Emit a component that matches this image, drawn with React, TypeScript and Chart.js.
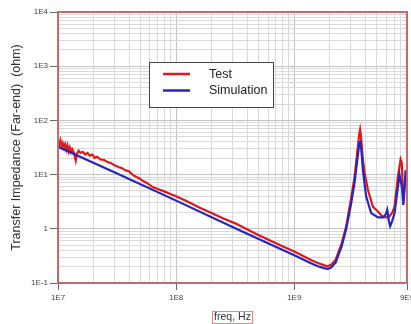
import React, { useEffect, useRef } from 'react';
import { Chart, registerables } from 'chart.js';

Chart.register(...registerables);

// ---- Data (frequency in Hz, impedance in ohm) ----
const testFreq = [
  1.0e7, 1.023e7, 1.047e7, 1.072e7, 1.096e7, 1.122e7, 1.148e7, 1.175e7, 1.202e7, 1.23e7,
  1.259e7, 1.288e7, 1.318e7, 1.365e7, 1.413e7, 1.445e7, 1.496e7, 1.549e7, 1.622e7, 1.698e7,
  1.778e7, 1.862e7, 1.95e7, 2.042e7, 2.138e7, 2.291e7, 2.455e7, 2.63e7, 2.818e7, 3.02e7,
  3.236e7, 3.467e7, 3.715e7, 3.981e7, 4.266e7, 4.571e7, 4.898e7, 5.248e7, 5.623e7, 6.31e7,
  7.079e7, 7.943e7, 8.913e7, 1.0e8, 1.259e8, 1.585e8, 1.995e8, 2.512e8, 3.162e8, 3.981e8,
  5.012e8, 6.31e8, 7.943e8, 1.0e9, 1.259e9, 1.413e9, 1.585e9, 1.778e9, 1.905e9, 2.042e9,
  2.239e9, 2.512e9, 2.754e9, 3.02e9, 3.236e9, 3.428e9, 3.548e9, 3.606e9, 3.673e9, 3.802e9,
  3.926e9, 4.198e9, 4.624e9, 5.105e9, 5.623e9, 6.026e9, 6.397e9, 6.761e9, 7.063e9, 7.534e9,
  7.943e9, 8.128e9, 8.375e9, 8.59e9, 8.81e9,
];
const testImp = [
  39.8, 35.5, 42.7, 33.1, 38.0, 31.6, 36.3, 28.8, 34.7, 26.9,
  31.6, 26.3, 29.5, 25.1, 18.2, 24.0, 27.5, 25.1, 26.3, 23.4,
  25.1, 22.4, 23.4, 20.4, 21.4, 19.1, 18.6, 17.0, 16.2, 14.8,
  13.8, 13.2, 12.0, 11.5, 10.0, 9.12, 8.51, 7.59, 7.08, 5.89,
  5.37, 4.9, 4.37, 3.98, 3.16, 2.45, 1.95, 1.55, 1.26, 0.977,
  0.759, 0.603, 0.479, 0.38, 0.295, 0.26, 0.234, 0.214, 0.204, 0.216,
  0.269, 0.525, 1.12, 3.55, 8.91, 28.2, 56.2, 67.6, 50.1, 20.0,
  11.2, 5.25, 2.57, 2.09, 1.66, 1.62, 1.7, 2.0, 2.57, 9.12,
  19.1, 16.6, 3.16, 6.03, 8.91,
];
const simFreq = [
  1.0e7, 3.162e7, 1.0e8, 3.162e8, 1.0e9, 1.384e9, 1.585e9, 1.778e9, 1.919e9, 2.042e9,
  2.239e9, 2.512e9, 2.754e9, 3.02e9, 3.236e9, 3.428e9, 3.565e9, 3.631e9, 3.715e9, 3.802e9,
  4.055e9, 4.477e9, 5.105e9, 5.623e9, 5.957e9, 6.124e9, 6.31e9, 6.486e9, 6.761e9, 7.063e9,
  7.413e9, 7.78e9, 8.035e9, 8.204e9, 8.375e9, 8.61e9, 8.75e9, 8.872e9,
];
const simImp = [
  32.7, 10.5, 3.31, 1.02, 0.324, 0.231, 0.204, 0.188, 0.182, 0.191,
  0.24, 0.468, 1.0, 2.82, 7.08, 20.0, 39.8, 40.7, 25.1, 12.6,
  3.98, 1.95, 1.62, 1.62, 1.86, 2.24, 1.41, 1.12, 1.41, 1.95,
  4.47, 9.77, 7.08, 5.25, 2.75, 6.31, 12.0, 8.91,
];

const seriesNames = ['Test', 'Simulation'];
const seriesColors = ['#e01818', '#2424c4'];

const xTickValues = [1e7, 1e8, 1e9, 9e9];
const xTickLabels = ['1E7', '1E8', '1E9', '9E9'];
const yTickValues = [1e4, 1e3, 1e2, 1e1, 1, 1e-1];
const yTickLabels = ['1E4', '1E3', '1E2', '1E1', '1', '1E-1'];

const xTitle = 'freq, Hz';
const yTitle = 'Transfer Impedance (Far-end)  (ohm)';

const FONT = "'Liberation Sans', Arial, sans-serif";

function logGrid(minExp: number, maxExp: number, maxVal: number) {
  const out: number[] = [];
  for (let e = minExp; e <= maxExp; e++) {
    for (let m = 1; m <= 9; m++) {
      const v = m * Math.pow(10, e);
      if (v <= maxVal * 1.000001) out.push(v);
    }
  }
  return out;
}

function findLabel(v: number, vals: number[], labels: string[]) {
  for (let i = 0; i < vals.length; i++) {
    if (Math.abs(v - vals[i]) / vals[i] < 1e-6) return labels[i];
  }
  return '';
}

function isMajor(v: number) {
  const l = Math.log10(v);
  return Math.abs(l - Math.round(l)) < 1e-6;
}

const overlayPlugin = {
  id: 'overlay',
  afterDraw(chart: any) {
    const { ctx, chartArea: a } = chart;
    ctx.save();
    // plot frame
    ctx.strokeStyle = '#c46a6a';
    ctx.lineWidth = 2;
    ctx.strokeRect(a.left, a.top, a.right - a.left, a.bottom - a.top);

    // legend box
    const lx = a.left + 91;
    const ly = a.top + 50;
    ctx.fillStyle = '#ffffff';
    ctx.fillRect(lx, ly, 124, 45);
    ctx.strokeStyle = '#444';
    ctx.lineWidth = 1;
    ctx.strokeRect(lx + 0.5, ly + 0.5, 124, 45);
    ctx.font = `12.5px ${FONT}`;
    ctx.textBaseline = 'middle';
    ctx.textAlign = 'left';
    const rows = [12, 28.5];
    seriesNames.forEach((name, i) => {
      ctx.strokeStyle = seriesColors[i];
      ctx.lineWidth = 2.5;
      ctx.beginPath();
      ctx.moveTo(lx + 14, ly + rows[i]);
      ctx.lineTo(lx + 41, ly + rows[i]);
      ctx.stroke();
      ctx.fillStyle = '#222';
      ctx.fillText(name, lx + 60, ly + rows[i] + 0.5);
    });

    // box around x title
    const xs = chart.scales.x;
    ctx.font = `10.5px ${FONT}`;
    const w = ctx.measureText(xTitle).width;
    const cx = (a.left + a.right) / 2;
    const cy = xs.bottom - 7.3;
    ctx.strokeStyle = '#d88a8a';
    ctx.lineWidth = 1;
    ctx.strokeRect(Math.round(cx - w / 2 - 2) + 0.5, Math.round(cy - 6) + 0.5, Math.round(w + 3), 12);
    ctx.restore();
  },
};

export default function App() {
  const ref = useRef<HTMLCanvasElement>(null);
  useEffect(() => {
    if (!ref.current) return;
    const chart = new Chart(ref.current, {
      type: 'line',
      data: {
        datasets: [
          {
            label: seriesNames[0],
            data: testFreq.map((f, i) => ({ x: f, y: testImp[i] })),
            borderColor: seriesColors[0],
            backgroundColor: seriesColors[0],
            borderWidth: 2.2,
            pointRadius: 0,
            tension: 0,
            order: 2,
          },
          {
            label: seriesNames[1],
            data: simFreq.map((f, i) => ({ x: f, y: simImp[i] })),
            borderColor: seriesColors[1],
            backgroundColor: seriesColors[1],
            borderWidth: 2.2,
            pointRadius: 0,
            tension: 0,
            order: 1,
          },
        ],
      },
      options: {
        animation: false,
        responsive: false,
        devicePixelRatio: 1,
        layout: { padding: { left: 0, right: 13, top: 12, bottom: 0 } },
        plugins: { legend: { display: false }, tooltip: { enabled: false } },
        scales: {
          x: {
            type: 'logarithmic',
            min: 1e7,
            max: 9e9,
            afterBuildTicks: (s: any) => {
              s.ticks = logGrid(7, 9, 9e9).map((v) => ({ value: v }));
            },
            afterFit: (s: any) => {
              s.height = 41;
            },
            border: { display: false },
            grid: {
              color: (c: any) => (c.tick && isMajor(c.tick.value) ? '#c4c4c4' : '#dadada'),
              tickColor: (c: any) =>
                c.tick && findLabel(c.tick.value, xTickValues, xTickLabels) ? '#666' : 'rgba(0,0,0,0)',
              tickLength: 7,
              lineWidth: 1,
            },
            ticks: {
              autoSkip: false,
              maxRotation: 0,
              minRotation: 0,
              padding: 3,
              color: '#444',
              font: { family: FONT, size: 8 },
              callback: (v: any) => findLabel(Number(v), xTickValues, xTickLabels),
            },
            title: {
              display: true,
              text: xTitle,
              color: '#333',
              font: { family: FONT, size: 10.5 },
              padding: { top: 0, bottom: 1 },
            },
          },
          y: {
            type: 'logarithmic',
            min: 0.1,
            max: 1e4,
            afterBuildTicks: (s: any) => {
              s.ticks = logGrid(-1, 3, 1e4).concat([1e4]).map((v) => ({ value: v }));
            },
            afterFit: (s: any) => {
              s.width = 58;
            },
            border: { display: false },
            grid: {
              color: (c: any) => (c.tick && isMajor(c.tick.value) ? '#c4c4c4' : '#dadada'),
              tickColor: (c: any) =>
                c.tick && findLabel(c.tick.value, yTickValues, yTickLabels) ? '#666' : 'rgba(0,0,0,0)',
              tickLength: 8,
              lineWidth: 1,
            },
            ticks: {
              autoSkip: false,
              padding: 2,
              color: '#444',
              font: { family: FONT, size: 8 },
              callback: (v: any) => findLabel(Number(v), yTickValues, yTickLabels),
            },
            title: {
              display: true,
              text: yTitle,
              color: '#333',
              font: { family: FONT, size: 12.5 },
              padding: { top: 9.5, bottom: 0 },
            },
          },
        },
      },
      plugins: [overlayPlugin],
    } as any);
    return () => chart.destroy();
  }, []);

  return (
    <div
      style={{
        position: 'fixed',
        left: 0,
        top: 0,
        width: 411,
        height: 324,
        overflow: 'hidden',
        background: '#ffffff',
      }}
    >
      <canvas ref={ref} width={420} height={324} style={{ display: 'block', width: 420, height: 324 }} />
    </div>
  );
}
